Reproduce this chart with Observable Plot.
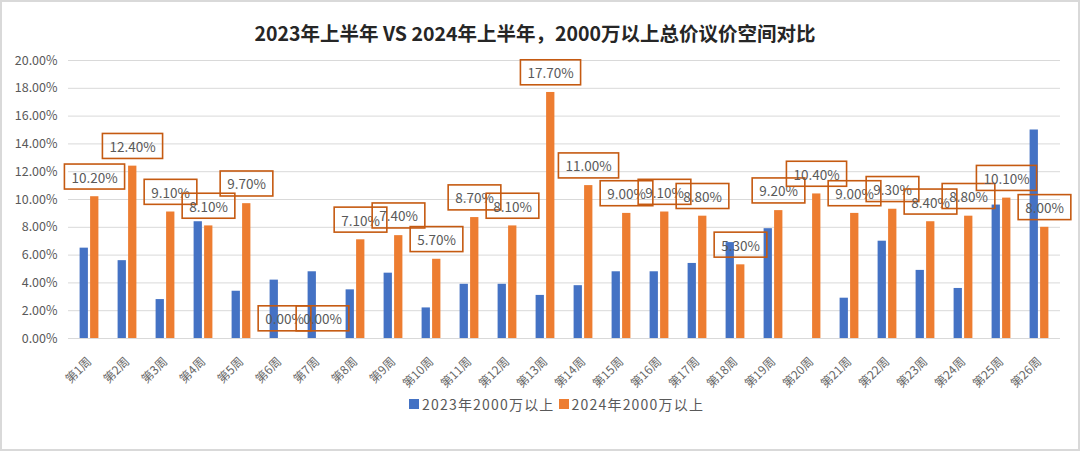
<!DOCTYPE html>
<html><head><meta charset="utf-8">
<script src="https://cdn.jsdelivr.net/npm/d3@7"></script>
<script src="https://cdn.jsdelivr.net/npm/@observablehq/plot@0.6"></script>
<style>
body{margin:0;background:#fff;}
#wrap{position:relative;width:1080px;height:451px;overflow:hidden;background:#fff;font-family:"Noto Sans CJK SC","Noto Sans",sans-serif;}
#frame{position:absolute;left:0;top:0;width:1080px;height:451px;box-sizing:border-box;border:2px solid #d9d9d9;pointer-events:none;}
#title{height:45px;box-sizing:border-box;padding-top:22px;line-height:22px;text-align:center;font-size:19.5px;font-weight:bold;color:#262626;padding-right:10px;}
#chart{height:345px;}
#legend{position:absolute;left:409px;top:395px;display:flex;align-items:center;font-size:14px;color:#595959;line-height:18px;letter-spacing:1.2px;}
.sw{display:inline-block;width:10px;height:10px;margin-right:3px;}
.item{display:flex;align-items:center;margin-right:4px;}
</style></head>
<body>
<div id="wrap">
  <div id="title">2023年上半年 VS 2024年上半年，2000万以上总价议价空间对比</div>
  <div id="chart"></div>
  <div id="legend"></div>
  <div id="frame"></div>
</div>
<script>
const weeks = ["第1周","第2周","第3周","第4周","第5周","第6周","第7周","第8周","第9周","第10周","第11周","第12周","第13周","第14周","第15周","第16周","第17周","第18周","第19周","第20周","第21周","第22周","第23周","第24周","第25周","第26周"];
const series = ["2023年2000万以上","2024年2000万以上"];
const colors = ["#4472C4","#ED7D31"];
const v2023 = [6.5,5.6,2.8,8.4,3.4,4.2,4.8,3.5,4.7,2.2,3.9,3.9,3.1,3.8,4.8,4.8,5.4,6.9,7.9,null,2.9,7.0,4.9,3.6,9.6,15.0];
const v2024 = [10.2,12.4,9.1,8.1,9.7,0,0,7.1,7.4,5.7,8.7,8.1,17.7,11.0,9.0,9.1,8.8,5.3,9.2,10.4,9.0,9.3,8.4,8.8,10.1,8.0];
const yTicks = [0,2,4,6,8,10,12,14,16,18,20];

const d23 = weeks.map((w,i)=>({week:w, value:v2023[i]})).filter(d=>d.value!=null);
const d24 = weeks.map((w,i)=>({week:w, value:v2024[i]}));
const fmt = v => v.toFixed(2) + "%";

const chart = Plot.plot({
  width: 1080,
  height: 345,
  marginLeft: 68,
  marginRight: 20,
  marginTop: 15,
  marginBottom: 52,
  style: {fontFamily: '"Noto Sans CJK SC","Noto Sans",sans-serif', background: "transparent"},
  x: {domain: weeks, padding: 0, label: null},
  y: {domain: [0,20], label: null},
  marks: [
    Plot.ruleY(yTicks, {stroke: "#d9d9d9", strokeWidth: 1}),
    Plot.axisY({ticks: yTicks, tickSize: 0, tickPadding: 11, tickFormat: fmt, fontSize: 12.5, fill: "#595959"}),
    Plot.axisX({tickRotate: -45, tickSize: 0, tickPadding: 21, fontSize: 12, fill: "#666666", dx: 0}),
    Plot.barY(d23, {x: "week", y: "value", fill: colors[0], insetLeft: 9.6, insetRight: 20.1}),
    Plot.barY(d24, {x: "week", y: "value", fill: colors[1], insetLeft: 20.1, insetRight: 9.6}),
    Plot.text(d24, {x: "week", y: "value", text: d => fmt(d.value), dx: 5, dy: -18.5, fontSize: 13.5, fill: "#595959"})
  ]
});
document.getElementById("chart").append(chart);

// boxes around data labels
const NS = "http://www.w3.org/2000/svg";
chart.querySelectorAll('g[aria-label="text"] text').forEach(t => {
  const b = t.getBBox();
  const cy = b.y + b.height/2;
  const w = b.width + 14;
  const r = document.createElementNS(NS, "rect");
  r.setAttribute("x", b.x + b.width/2 - w/2);
  r.setAttribute("y", cy - 12.5);
  r.setAttribute("width", w);
  r.setAttribute("height", 25);
  r.setAttribute("fill", "none");
  r.setAttribute("stroke", "#C55A11");
  r.setAttribute("stroke-width", 1.6);
  if (t.getAttribute("transform")) r.setAttribute("transform", t.getAttribute("transform"));
  t.parentNode.insertBefore(r, t);
});

const lg = document.getElementById("legend");
series.forEach((s,i) => {
  const it = document.createElement("div"); it.className = "item";
  const sw = document.createElement("span"); sw.className = "sw"; sw.style.background = colors[i];
  const tx = document.createElement("span"); tx.textContent = s;
  it.append(sw, tx); lg.append(it);
});
</script>
</body></html>
